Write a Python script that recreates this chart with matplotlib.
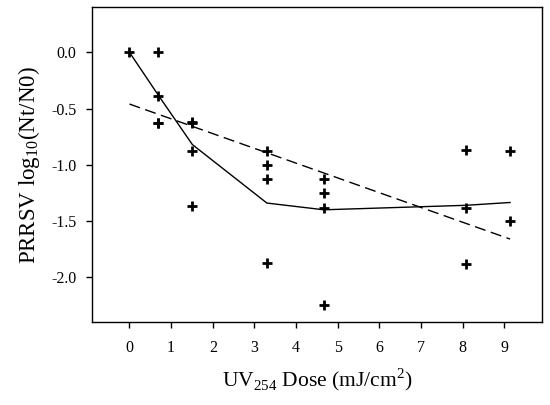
import matplotlib
matplotlib.use("Agg")
import matplotlib.pyplot as plt

plt.rcParams['font.family'] = ['Liberation Serif', 'DejaVu Serif']
plt.rcParams['mathtext.fontset'] = 'custom'
plt.rcParams['mathtext.rm'] = 'Liberation Serif'

# observed data
dose_x = [0, 0.69, 0.69, 0.69, 0.69,
          1.51, 1.51, 1.51, 1.51,
          3.30, 3.30, 3.30, 3.30,
          4.67, 4.67, 4.67, 4.67,
          8.08, 8.08, 8.08,
          9.14, 9.14]
log_red = [0.0, 0.0, -0.39, -0.63, -0.63,
           -0.62, -0.63, -0.88, -1.37,
           -0.88, -1.00, -1.13, -1.87,
           -1.13, -1.25, -1.38, -2.25,
           -0.87, -1.38, -1.88,
           -0.88, -1.50]

# solid model line
solid_x = [0, 0.69, 1.51, 3.30, 4.67, 8.08, 9.14]
solid_y = [0.0, -0.38, -0.82, -1.34, -1.40, -1.36, -1.335]

# dashed regression line
dash_x = [0, 9.14]
dash_y = [-0.46, -1.66]

xticks = [0, 1, 2, 3, 4, 5, 6, 7, 8, 9]
yticks = [0.0, -0.5, -1.0, -1.5, -2.0]

fig = plt.figure(figsize=(5.5, 4.05), dpi=100)
ax = fig.add_axes([92/550, 1-322.3/405, (541.7-92)/550, (322.3-7.3)/405])

ax.plot(solid_x, solid_y, color='black', lw=1.0)
ax.plot(dash_x, dash_y, color='black', lw=1.0, dashes=(8, 4))
ax.plot(dose_x, log_red, linestyle='none', marker='+', color='black',
        markersize=7, markeredgewidth=2.0)

ax.set_xlim(-0.9, 9.9)
ax.set_ylim(-2.4, 0.4)
ax.set_xticks(xticks)
ax.set_xticklabels([str(t) for t in xticks])
ax.set_yticks(yticks)
ax.set_yticklabels([f"{t:.1f}" for t in yticks])
ax.tick_params(direction='out', length=4, width=1, labelsize=11.5, pad=9)
ax.tick_params(axis='y', pad=7)
for s in ax.spines.values():
    s.set_linewidth(1.0)

ax.set_xlabel(r'UV$_{254}$ Dose (mJ/cm$^2$)', fontsize=15.5, labelpad=7)
ax.set_ylabel(r'PRRSV log$_{10}$(Nt/N0)', fontsize=16.5, labelpad=7)

fig.savefig('out.png', dpi=100)
